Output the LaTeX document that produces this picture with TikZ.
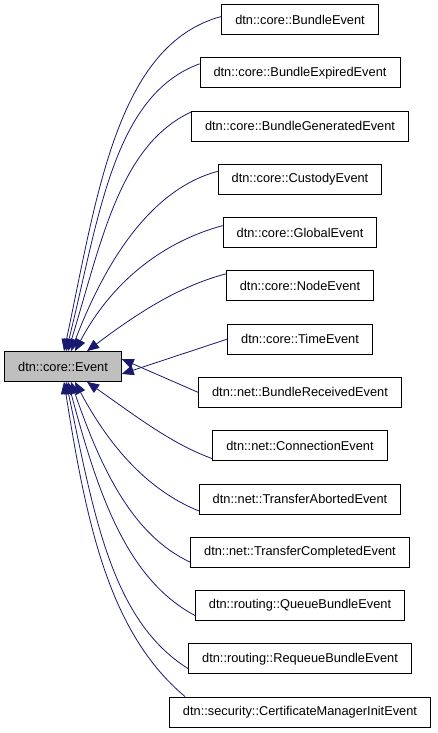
\documentclass[tikz,border=0pt]{standalone}
\usepackage{fontspec}
\setmainfont{Liberation Sans}
\usepackage{xcolor}
\usetikzlibrary{positioning,arrows.meta}
\definecolor{edgeblue}{RGB}{25,25,112}
\definecolor{basegray}{RGB}{191,191,191}

\begin{document}
\begin{tikzpicture}[x=1pt, y=-1pt,
        cls/.style={rectangle, draw=black, line width=0.8pt, fill=white,
                    minimum height=30pt, inner xsep=13.5pt, inner ysep=0pt,
                    font=\fontsize{12.8}{15}\selectfont},
        base/.style={cls, fill=basegray},
        edge/.style={edgeblue, line width=0.8pt,
                     -{Triangle[length=12pt,width=10pt]}},
        arcish/.style={out looseness=0.75, in looseness=1.1}
      ]
        \useasboundingbox (0,0) rectangle (437,733);
        \node[base] (ev) at (63,366.5) {dtn::core::Event};
        % derived classes
        \node[cls] (c1)  at (300,19.5)  {dtn::core::BundleEvent};
        \node[cls] (c2)  at (300,72.8)  {dtn::core::BundleExpiredEvent};
        \node[cls] (c3)  at (300,126.0) {dtn::core::BundleGeneratedEvent};
        \node[cls] (c4)  at (300,179.3) {dtn::core::CustodyEvent};
        \node[cls] (c5)  at (300,232.6) {dtn::core::GlobalEvent};
        \node[cls] (c6)  at (300,285.8) {dtn::core::NodeEvent};
        \node[cls] (c7)  at (300,339.1) {dtn::core::TimeEvent};
        \node[cls] (c8)  at (300,392.4) {dtn::net::BundleReceivedEvent};
        \node[cls] (c9)  at (300,445.7) {dtn::net::ConnectionEvent};
        \node[cls] (c10) at (300,498.9) {dtn::net::TransferAbortedEvent};
        \node[cls] (c11) at (300,552.2) {dtn::net::TransferCompletedEvent};
        \node[cls] (c12) at (300,605.5) {dtn::routing::QueueBundleEvent};
        \node[cls] (c13) at (300,658.7) {dtn::routing::RequeueBundleEvent};
        \node[cls] (c14) at (300,712.0) {dtn::security::CertificateManagerInitEvent};
        % inheritance edges
        \draw[edge] ([yshift=3pt]c1.west)  to[out=195,in=78,arcish] ([xshift=1pt]ev.north);
        \draw[edge] ([yshift=9pt]c2.west)  to[out=200,in=76,arcish] ([xshift=3pt]ev.north);
        \draw[edge] ([yshift=14pt]c3.west) to[out=205,in=73,arcish] ([xshift=5pt]ev.north);
        \draw[edge] ([yshift=8pt]c4.west)  to[out=195,in=69,arcish] ([xshift=8pt]ev.north);
        \draw[edge] ([yshift=7pt]c5.west)  to[out=195,in=62,arcish] ([xshift=12pt]ev.north);
        \draw[edge] ([yshift=12pt]c6.west) to[out=195,in=37,arcish] ([xshift=24pt]ev.north);
        \draw[edge] (c7.west)  -- ([yshift=-7.5pt]ev.east);
        \draw[edge] (c8.west)  -- ([yshift=7.5pt]ev.east);
        \draw[edge] ([yshift=-13pt]c9.west)  to[out=160,in=-35,arcish] ([xshift=24pt]ev.south);
        \draw[edge] ([yshift=-12pt]c10.west) to[out=158,in=-62,arcish] ([xshift=12pt]ev.south);
        \draw[edge] ([yshift=-10pt]c11.west) to[out=155,in=-71,arcish] ([xshift=8pt]ev.south);
        \draw[edge] ([yshift=-10pt]c12.west) to[out=152,in=-75,arcish] ([xshift=5pt]ev.south);
        \draw[edge] ([yshift=-10pt]c13.west) to[out=148,in=-78,arcish] ([xshift=3pt]ev.south);
        \draw[edge] ([xshift=16pt]c14.north west) to[out=140,in=-81,arcish] ([xshift=1pt]ev.south);
      \end{tikzpicture}
\end{document}
